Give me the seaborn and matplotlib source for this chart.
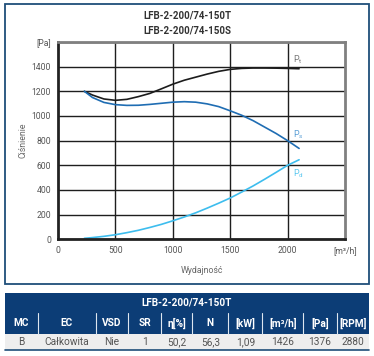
import numpy as np
import pandas as pd
import seaborn as sns
import matplotlib
matplotlib.use("Agg")
import matplotlib.pyplot as plt
from matplotlib.patches import Rectangle

# ---- data ----
flow = [230, 300, 400, 500, 600, 700, 800, 900, 1000, 1100, 1200, 1300, 1400,
        1500, 1600, 1700, 1800, 1900, 2000, 2100]
p_total = [1200, 1170, 1138, 1127, 1135, 1157, 1183, 1220, 1258, 1290, 1315,
           1340, 1362, 1378, 1386, 1389, 1389, 1388, 1386, 1383]
p_static = [1200, 1150, 1110, 1092, 1086, 1087, 1094, 1103, 1112, 1116, 1112,
            1098, 1076, 1042, 1006, 962, 910, 858, 800, 737]
p_dynamic = [8, 14, 24, 37, 54, 73, 96, 121, 150, 181, 215, 253, 293, 335, 383,
             433, 487, 543, 600, 645]
series_names = ["Pt", "Ps", "Pd"]
series_labels = [r"P$_\mathrm{t}$", r"P$_\mathrm{s}$", r"P$_\mathrm{d}$"]
series_colors = ["#1c1c1c", "#1f6db3", "#3dbdee"]
label_colors = ["#777777", "#5b9fd6", "#5cc8f0"]
label_pos = [(2050, 1460), (2050, 845), (2050, 535)]

x_ticks = [0, 500, 1000, 1500, 2000]
y_ticks = [0, 200, 400, 600, 800, 1000, 1200, 1400]
x_unit = "[m³/h]"
y_unit = "[Pa]"
titles = ["LFB-2-200/74-150T", "LFB-2-200/74-150S"]

table_title = "LFB-2-200/74-150T"
table_headers = ["MC", "EC", "VSD", "SR", "η[%]", "N", "[kW]", "[m³/h]", "[Pa]", "[RPM]"]
table_values = ["B", "Całkowita", "Nie", "1", "50,2", "56,3", "1,09", "1426", "1376", "2880"]

# ---- style ----
sns.set_theme(style="whitegrid", rc={"grid.color": "#1e1e1e", "grid.linewidth": 1.0,
                                     "axes.edgecolor": "#808080"})
plt.rcParams["font.family"] = ["Roboto", "DejaVu Sans"]
plt.rcParams["mathtext.fontset"] = "custom"
plt.rcParams["mathtext.rm"] = "Roboto"

W, H = 374, 356
fig = plt.figure(figsize=(W / 100, H / 100), dpi=100)

def fx(px):
    return px / W

def fy(py):
    return 1 - py / H

ax = fig.add_axes([fx(58), fy(239.3), fx(345) - fx(58), fy(42) - fy(239.3)])

df = pd.DataFrame({
    "flow": flow * 3,
    "pressure": p_total + p_static + p_dynamic,
    "series": sum([[n] * len(flow) for n in series_names], []),
})
sns.lineplot(data=df, x="flow", y="pressure", hue="series",
             palette=dict(zip(series_names, series_colors)), linewidth=1.2,
             legend=False, ax=ax, zorder=3)

ax.set_xlim(0, 2500)
ax.set_ylim(0, 1600)
ax.set_xticks(x_ticks + [2500])
ax.set_xticklabels([str(v) for v in x_ticks] + [x_unit])
ax.set_yticks(y_ticks + [1600])
ax.set_yticklabels([str(v) for v in y_ticks] + [y_unit])
ax.tick_params(axis="both", which="major", length=0,
               labelsize=6.2, colors="#555555", pad=5)

# grid: horizontal via axis grid, vertical via vlines
ax.grid(True, axis="y", color="#1e1e1e", linewidth=1.0, linestyle="-")
ax.grid(False, axis="x")
ax.vlines(x_ticks[1:], 0, 1600, colors="#1e1e1e", linewidth=1.0, zorder=2)
ax.set_axisbelow(True)
ax.set_xlim(0, 2500)
ax.set_ylim(0, 1600)

for lab, col, (lx, ly) in zip(series_labels, label_colors, label_pos):
    ax.text(lx, ly, lab, color=col, fontsize=6.5, ha="left", va="center")

for s in ax.spines.values():
    s.set_visible(True)
    s.set_color("#808080")
    s.set_linewidth(2.0)
    s.set_zorder(4)
ax.spines["bottom"].set_color("#222222")
ax.spines["left"].set_color("#222222")
ax.set_xlabel("Wydajność", fontsize=6.3, color="#666666", labelpad=8)
ax.set_ylabel("Ciśnienie", fontsize=6.3, color="#666666", labelpad=3)

fig.text(fx(187), fy(15.5), titles[0], ha="center", va="center", fontsize=7,
         fontweight="bold", color="#333333")
fig.text(fx(187), fy(30.5), titles[1], ha="center", va="center", fontsize=7,
         fontweight="bold", color="#333333")

# outer border
fig.add_artist(Rectangle((fx(4.5), fy(284)), fx(369) - fx(4.5), fy(3.5) - fy(284),
                         transform=fig.transFigure, fill=False,
                         edgecolor="#1f4e79", linewidth=1.3))

# ---- table ----
bounds = [5, 37.7, 95.7, 128.3, 160.7, 192.3, 228.3, 262.3, 303.3, 336.7, 369.3]
navy = "#0c3d76"
r1, r2, r3, r4 = 292.5, 313, 334, 349.5
fig.add_artist(Rectangle((fx(5), fy(r3)), fx(369.3) - fx(5), fy(r1) - fy(r3),
                         transform=fig.transFigure, facecolor=navy, edgecolor="none"))
fig.add_artist(Rectangle((fx(5), fy(r4)), fx(369.3) - fx(5), fy(r3) - fy(r4),
                         transform=fig.transFigure, facecolor="#eeeeee", edgecolor="none"))
fig.add_artist(plt.Line2D([fx(5), fx(369.3)], [fy(r4 + 0.6), fy(r4 + 0.6)],
                          transform=fig.transFigure, color="#1f4e79", linewidth=1.2))
for b in bounds[1:-1]:
    fig.add_artist(plt.Line2D([fx(b), fx(b)], [fy(r2), fy(r3)],
                              transform=fig.transFigure, color="#dde6f0", linewidth=0.8))
fig.text(fx(187), fy((r1 + r2) / 2), table_title, ha="center", va="center",
         fontsize=7.2, color="white", fontweight="bold")
for i in range(len(table_headers)):
    cx = (bounds[i] + bounds[i + 1]) / 2
    fig.text(fx(cx), fy((r2 + r3) / 2), table_headers[i], ha="center", va="center",
             fontsize=7.3, color="white", fontweight="bold")
    fig.text(fx(cx), fy((r3 + r4) / 2), table_values[i], ha="center", va="center",
             fontsize=7.3, color="#555555")

fig.savefig("out.png", dpi=100)
